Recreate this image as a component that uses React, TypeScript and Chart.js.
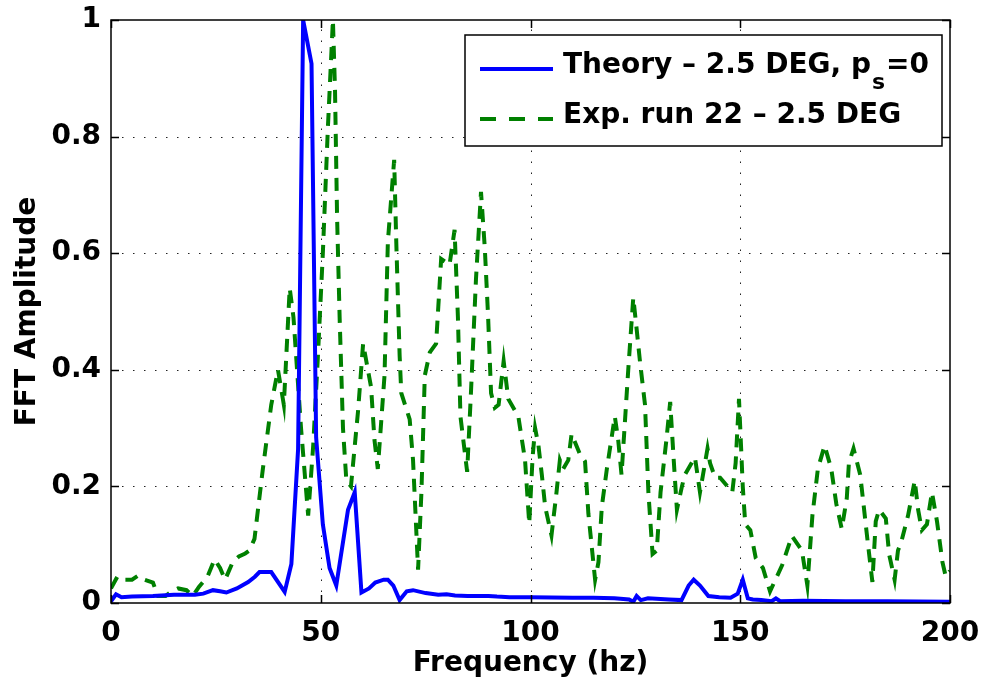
import React, { useEffect, useRef } from 'react';
import { Chart, registerables } from 'chart.js';

Chart.register(...registerables);

// ---------- data ----------
const theoryFreq = [0, 1.2, 2.5, 5, 10, 15, 20, 22, 24.3, 26, 27.5, 30, 32.7, 34.3, 35.4, 38.2, 41.4, 43, 44.6, 45.8, 47.8, 48.9, 50.5, 52.1, 53.7, 56.5, 58.1, 59.7, 61.5, 63, 65, 66, 67.3, 68.8, 70.5, 72, 75, 78, 80, 82, 85, 90, 92, 95, 100, 110, 115, 120, 123.5, 124.5, 125.3, 126.3, 128, 133, 136, 137.7, 138.9, 140.4, 142.4, 145, 147.7, 149.4, 150.6, 151.8, 153, 155, 157.5, 158.5, 159.5, 165, 175, 185, 200];
const theoryAmp = [0.003, 0.015, 0.01, 0.011, 0.012, 0.014, 0.014, 0.016, 0.022, 0.02, 0.018, 0.025, 0.036, 0.045, 0.053, 0.053, 0.019, 0.067, 0.264, 1.0, 0.925, 0.284, 0.135, 0.06, 0.03, 0.16, 0.19, 0.018, 0.025, 0.035, 0.04, 0.04, 0.03, 0.005, 0.02, 0.022, 0.017, 0.014, 0.015, 0.013, 0.012, 0.012, 0.011, 0.01, 0.01, 0.009, 0.009, 0.008, 0.006, 0.002, 0.012, 0.005, 0.008, 0.006, 0.005, 0.03, 0.04, 0.03, 0.012, 0.01, 0.009, 0.016, 0.04, 0.008, 0.006, 0.005, 0.003, 0.008, 0.003, 0.004, 0.003, 0.003, 0.002];

const expFreq = [0, 1.5, 3, 5, 6.5, 8, 10, 11.2, 13, 14.5, 16, 18, 19.5, 21, 23, 24.7, 26, 27.2, 29, 30.5, 32, 33, 34.2, 36.2, 38.2, 39.8, 41.2, 42.6, 43.5, 45.3, 47, 48.2, 49.3, 50.5, 51.7, 52.9, 53.4, 53.9, 54.5, 55.3, 56.1, 57.2, 58.9, 60.1, 62, 62.8, 63.6, 65.2, 66, 67.5, 68, 68.8, 69.2, 71.2, 72, 73.2, 74, 74.8, 76, 77.5, 78.7, 80.7, 81.9, 82.7, 83.3, 84.9, 85.8, 87, 88.2, 89.1, 89.9, 90.6, 91.5, 92.4, 93.6, 94.7, 97.1, 98.7, 99.7, 100.5, 101.1, 101.9, 102.7, 103.5, 105, 106.2, 107, 107.8, 109, 109.8, 111.8, 113, 113.8, 115.4, 116.2, 117, 118.2, 120.1, 120.9, 121.7, 122.5, 123.3, 124.5, 125.3, 126.1, 127.3, 128.1, 129.1, 130.1, 131, 132.4, 133.3, 134.1, 134.9, 136.1, 136.8, 139.2, 140.4, 142.2, 142.8, 144, 145.2, 148.1, 148.9, 149.7, 150.6, 151.2, 152.4, 153.7, 155.4, 157.1, 160, 162.3, 164.7, 166, 167.2, 168.5, 170.1, 171.7, 172.9, 174.2, 175.4, 175.9, 177, 178.6, 180.3, 181.5, 182.3, 183.1, 184.7, 185.5, 186.8, 187.6, 188.4, 190, 191.6, 192.4, 193.3, 194.5, 195.7, 196.9, 198.2, 199, 200];
const expAmp = [0.025, 0.045, 0.04, 0.04, 0.047, 0.04, 0.035, 0.012, 0.012, 0.02, 0.025, 0.022, 0.012, 0.028, 0.045, 0.075, 0.06, 0.04, 0.07, 0.08, 0.085, 0.09, 0.11, 0.23, 0.34, 0.4, 0.34, 0.54, 0.49, 0.3, 0.15, 0.27, 0.42, 0.6, 0.815, 1.0, 0.88, 0.66, 0.49, 0.3, 0.21, 0.2, 0.33, 0.445, 0.37, 0.28, 0.23, 0.39, 0.62, 0.76, 0.62, 0.425, 0.36, 0.315, 0.245, 0.057, 0.19, 0.39, 0.43, 0.445, 0.59, 0.58, 0.64, 0.49, 0.32, 0.225, 0.36, 0.555, 0.705, 0.61, 0.49, 0.36, 0.335, 0.34, 0.415, 0.35, 0.32, 0.245, 0.136, 0.25, 0.3, 0.27, 0.22, 0.165, 0.116, 0.19, 0.245, 0.23, 0.245, 0.29, 0.255, 0.243, 0.153, 0.04, 0.07, 0.165, 0.23, 0.32, 0.28, 0.22, 0.31, 0.4, 0.524, 0.47, 0.414, 0.34, 0.19, 0.084, 0.09, 0.19, 0.28, 0.345, 0.25, 0.16, 0.2, 0.22, 0.25, 0.19, 0.265, 0.24, 0.215, 0.215, 0.19, 0.24, 0.35, 0.2, 0.135, 0.125, 0.077, 0.06, 0.02, 0.065, 0.115, 0.09, 0.03, 0.15, 0.23, 0.27, 0.23, 0.17, 0.127, 0.18, 0.24, 0.265, 0.22, 0.11, 0.036, 0.14, 0.16, 0.145, 0.083, 0.04, 0.09, 0.105, 0.15, 0.21, 0.16, 0.125, 0.135, 0.19, 0.14, 0.07, 0.045, 0.055];

const xTickValues = [0, 50, 100, 150, 200];
const yTickValues = [0, 0.2, 0.4, 0.6, 0.8, 1];
const xAxisLabel = 'Frequency (hz)';
const yAxisLabel = 'FFT Amplitude';
const theoryLegendMain = 'Theory \u2013 2.5 DEG, p';
const theoryLegendSub = 's';
const theoryLegendTail = '=0';
const expLegend = 'Exp. run 22 \u2013 2.5 DEG';

const BLUE = '#0000ff';
const GREEN = '#008000';
const FONT_FAMILY = "'DejaVu Sans', 'Liberation Sans', Arial, sans-serif";
const EXP_DASH = [13, 9];

const framePlugin = {
  id: 'matlabFrame',
  beforeDatasetsDraw(chart: any) {
    const { ctx, chartArea, scales } = chart;
    const { left, right, top, bottom } = chartArea;
    ctx.save();
    ctx.strokeStyle = '#222';
    ctx.lineWidth = 1;
    ctx.setLineDash([1.5, 9.5]);
    xTickValues.forEach((v) => {
      const px = Math.round(scales.x.getPixelForValue(v)) + 0.5;
      if (px <= left + 2 || px >= right - 2) return;
      ctx.beginPath();
      ctx.moveTo(px, bottom);
      ctx.lineTo(px, top);
      ctx.stroke();
    });
    yTickValues.forEach((v) => {
      const py = Math.round(scales.y.getPixelForValue(v)) + 0.5;
      if (py <= top + 2 || py >= bottom - 2) return;
      ctx.beginPath();
      ctx.moveTo(left, py);
      ctx.lineTo(right, py);
      ctx.stroke();
    });
    ctx.restore();
  },
  afterDatasetsDraw(chart: any) {
    const { ctx, chartArea, scales } = chart;
    const { left, right, top, bottom } = chartArea;
    ctx.save();
    ctx.setLineDash([]);
    ctx.strokeStyle = '#000';
    ctx.lineWidth = 1.5;
    // inward ticks
    const tl = 8;
    xTickValues.forEach((v) => {
      const px = Math.round(scales.x.getPixelForValue(v)) + 0.5;
      ctx.beginPath();
      ctx.moveTo(px, bottom);
      ctx.lineTo(px, bottom - tl);
      ctx.moveTo(px, top);
      ctx.lineTo(px, top + tl);
      ctx.stroke();
    });
    yTickValues.forEach((v) => {
      const py = Math.round(scales.y.getPixelForValue(v)) + 0.5;
      ctx.beginPath();
      ctx.moveTo(left, py);
      ctx.lineTo(left + tl, py);
      ctx.moveTo(right, py);
      ctx.lineTo(right - tl, py);
      ctx.stroke();
    });
    ctx.strokeRect(left, top, right - left, bottom - top);

    // legend
    const lw = 477;
    const lh = 111;
    const lx = right - 8 - lw;
    const ly = top + 15;
    ctx.fillStyle = '#fff';
    ctx.fillRect(lx, ly, lw, lh);
    ctx.lineWidth = 1.5;
    ctx.strokeStyle = '#000';
    ctx.strokeRect(lx, ly, lw, lh);

    const sx0 = lx + 15;
    const sx1 = lx + 88;
    const tx = lx + 98;
    // row 1
    ctx.lineWidth = 4;
    ctx.strokeStyle = BLUE;
    ctx.beginPath();
    ctx.moveTo(sx0, ly + 34);
    ctx.lineTo(sx1, ly + 34);
    ctx.stroke();
    // row 2
    ctx.strokeStyle = GREEN;
    ctx.setLineDash([16, 13]);
    ctx.beginPath();
    ctx.moveTo(sx0, ly + 84);
    ctx.lineTo(sx1, ly + 84);
    ctx.stroke();
    ctx.setLineDash([]);

    ctx.fillStyle = '#000';
    ctx.textAlign = 'left';
    ctx.textBaseline = 'alphabetic';
    ctx.font = `bold 28px ${FONT_FAMILY}`;
    let x = tx;
    ctx.fillText(theoryLegendMain, x, ly + 38);
    x += ctx.measureText(theoryLegendMain).width;
    ctx.font = `bold 22px ${FONT_FAMILY}`;
    ctx.fillText(theoryLegendSub, x + 1, ly + 54);
    x += ctx.measureText(theoryLegendSub).width + 2;
    ctx.font = `bold 28px ${FONT_FAMILY}`;
    ctx.fillText(theoryLegendTail, x, ly + 38);
    ctx.fillText(expLegend, tx, ly + 88);
    ctx.restore();
  },
};

export default function App() {
  const canvasRef = useRef<HTMLCanvasElement | null>(null);

  useEffect(() => {
    const canvas = canvasRef.current;
    if (!canvas) return;
    const tickFont = { family: FONT_FAMILY, size: 28, weight: 'bold' as const };
    const chart = new Chart(canvas, {
      type: 'scatter',
      data: {
        datasets: [
          {
            label: 'Theory \u2013 2.5 DEG, p_s=0',
            data: theoryFreq.map((f, i) => ({ x: f, y: theoryAmp[i] })),
            showLine: true,
            borderColor: BLUE,
            backgroundColor: BLUE,
            borderWidth: 4,
            pointRadius: 0,
            tension: 0,
          },
          {
            label: expLegend,
            data: expFreq.map((f, i) => ({ x: f, y: expAmp[i] })),
            showLine: true,
            borderColor: GREEN,
            backgroundColor: GREEN,
            borderWidth: 4,
            borderDash: EXP_DASH,
            pointRadius: 0,
            tension: 0,
          },
        ],
      },
      options: {
        responsive: false,
        animation: false,
        devicePixelRatio: 1,
        layout: { padding: { left: 0, right: 32, top: 20, bottom: 0 } },
        plugins: { legend: { display: false }, tooltip: { enabled: false } },
        scales: {
          x: {
            type: 'linear',
            min: 0,
            max: 200,
            afterFit: (s: any) => { s.height = 87; s.paddingLeft = 0; s.paddingRight = 0; },
            afterBuildTicks: (s: any) => { s.ticks = xTickValues.map((v) => ({ value: v })); },
            ticks: { font: tickFont, color: '#000', padding: 14, maxRotation: 0 },
            grid: { display: false, drawTicks: false },
            border: { display: false },
            title: { display: true, text: xAxisLabel, font: tickFont, color: '#000', padding: { top: 0, bottom: 9 } },
          },
          y: {
            type: 'linear',
            min: 0,
            max: 1,
            afterFit: (s: any) => { s.width = 111; s.paddingTop = 0; s.paddingBottom = 0; },
            afterBuildTicks: (s: any) => { s.ticks = yTickValues.map((v) => ({ value: v })); },
            ticks: {
              font: tickFont,
              color: '#000',
              padding: 10,
              callback: (v: any) => (v === 0 || v === 1 ? String(v) : Number(v).toFixed(1)),
            },
            grid: { display: false, drawTicks: false },
            border: { display: false },
            title: { display: true, text: yAxisLabel, font: tickFont, color: '#000', padding: { top: 11, bottom: 0 } },
          },
        },
      },
      plugins: [framePlugin],
    });
    return () => chart.destroy();
  }, []);

  return (
    <div style={{ position: 'absolute', left: 0, top: 0, width: 982, height: 690, background: '#fff' }}>
      <canvas ref={canvasRef} width={982} height={690} style={{ display: 'block' }} />
    </div>
  );
}
